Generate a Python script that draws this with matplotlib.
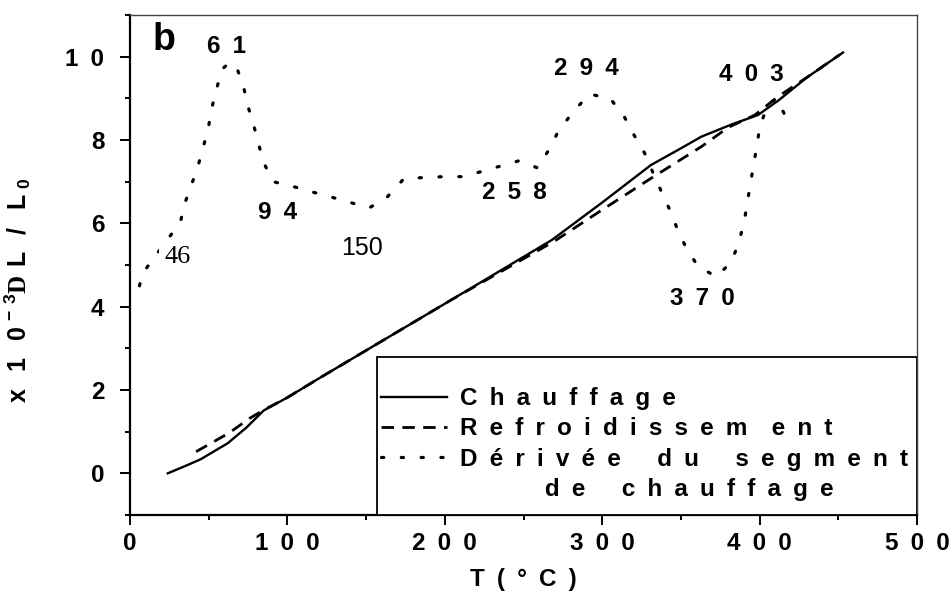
import numpy as np
import matplotlib
matplotlib.use('Agg')
import matplotlib.pyplot as plt
from matplotlib.ticker import MultipleLocator, FixedLocator
from matplotlib.lines import Line2D
from matplotlib.patches import Rectangle

plt.rcParams['font.family'] = ['Liberation Sans', 'DejaVu Sans']
plt.rcParams['font.weight'] = 'bold'
plt.rcParams['mathtext.fontset'] = 'custom'
plt.rcParams['mathtext.rm'] = 'Liberation Serif'
plt.rcParams['mathtext.bf'] = 'Liberation Sans:bold'

SP = '\u2002'  # wide letter spacing like the original


def spaced(s):
    return SP.join(s)


# %% DATA
heat_T = [24, 36, 45, 62, 74, 85, 100, 121, 150, 204, 268, 300, 331, 350, 363, 382, 399, 412, 430, 453]
heat_dL = [0, 0.19, 0.34, 0.72, 1.1, 1.51, 1.82, 2.3, 2.95, 4.16, 5.6, 6.5, 7.4, 7.8, 8.08, 8.37, 8.6, 8.95, 9.5, 10.1]

cool_T = [42, 63, 76, 85, 100, 121, 150, 204, 250, 270, 299, 331, 363, 380, 397, 412, 430, 451]
cool_dL = [0.52, 0.97, 1.32, 1.52, 1.82, 2.3, 2.95, 4.16, 5.15, 5.58, 6.3, 7.08, 7.84, 8.3, 8.6, 9.05, 9.5, 10.05]

deriv_T = [6, 8, 32, 35, 39.5, 43.4, 46.7, 49.8, 52, 54.8, 58.5, 63, 67.5, 72, 75, 78.5, 81.7, 85, 91,
           104, 116, 127, 140, 152, 163.6, 174, 187, 199, 211, 223, 234, 247, 259, 266, 272, 282, 292,
           305, 314, 320.5, 327, 332, 337.6, 343, 348, 353.5, 361, 372.6, 382, 386.6, 390, 392, 394,
           396, 398, 400, 405, 411, 418.5]
deriv_v = [4.5, 4.8, 6.03, 6.5, 6.97, 7.4, 7.85, 8.3, 8.77, 9.2, 9.7, 9.85, 9.77, 9.3, 8.8, 8.37, 7.9, 7.45, 7.0,
           6.88, 6.75, 6.64, 6.5, 6.37, 6.64, 7.07, 7.1, 7.12, 7.12, 7.24, 7.36, 7.5, 7.33, 7.76, 8.2, 8.7, 9.1,
           9.0, 8.56, 8.1, 7.68, 7.24, 6.76, 6.32, 5.84, 5.4, 4.96, 4.72, 5.07, 5.52, 6.0, 6.44, 6.92,
           7.36, 7.8, 8.28, 8.85, 9.0, 8.4]

# peak labels (text, T, value)
bold_labels = ['61', '94', '258', '294', '370', '403']
bold_lab_T = [61, 94, 244, 290, 363.5, 394.5]
bold_lab_v = [10.25, 6.27, 6.75, 9.71, 4.2, 9.58]

x_ticks = [0, 100, 200, 300, 400, 500]
y_ticks = [0, 2, 4, 6, 8, 10]

legend_labels = [spaced('Chauffage'),
                 spaced('Refroidissem') + SP + SP + spaced('ent'),
                 spaced('Dérivée') + SP * 3 + spaced('du') + SP * 3 + spaced('segment')]
legend_extra = SP * 7 + spaced('de') + SP * 3 + spaced('chauffage')

# %% PLOT
fig = plt.figure(figsize=(9.5, 5.99), dpi=100)
ax = fig.add_axes([130 / 950, 1 - 515 / 599, 787 / 950, 500 / 599])

ax.plot(heat_T, heat_dL, color='black', lw=1.7, label=legend_labels[0])
ax.plot(cool_T, cool_dL, color='black', lw=2.0, dashes=(4.5, 3), label=legend_labels[1])
ax.plot(deriv_T, deriv_v, color='black', lw=2.3, dashes=(0.7, 5.5), dash_capstyle='round',
        label=legend_labels[2])

ax.set_xlim(0, 500)
ax.set_ylim(-1, 11)
ax.xaxis.set_major_locator(FixedLocator(x_ticks))
ax.xaxis.set_minor_locator(MultipleLocator(50))
ax.yaxis.set_major_locator(FixedLocator(y_ticks))
ax.yaxis.set_minor_locator(MultipleLocator(1))
ax.set_xticklabels([spaced(str(v)) for v in x_ticks], fontweight='bold')
ax.set_yticklabels([spaced(str(v)) for v in y_ticks], fontweight='bold')
ax.tick_params(which='major', length=7.5, width=1.4, labelsize=17.5, direction='out')
ax.tick_params(which='minor', length=3.8, width=1.4, direction='out')
ax.tick_params(axis='y', pad=11)
ax.tick_params(axis='x', pad=5)

for s in ['left', 'bottom']:
    ax.spines[s].set_linewidth(1.6)
for s in ['top', 'right']:
    ax.spines[s].set_linewidth(1.0)
    ax.spines[s].set_color('#444444')

ax.set_xlabel(spaced('T') + SP + '(' + SP + '°' + SP + 'C' + SP + ')', fontsize=17.5,
              fontweight='bold', labelpad=9)
ax.set_ylabel(r'$\mathbf{x\ \ 1\ \ 0}^{\ \mathbf{-\ 3}}\mathrm{D}\ \mathbf{L\ \ /\ \ L}_{\ \mathbf{0}}$',
              fontsize=18)
ax.yaxis.set_label_coords(-0.123, 0.45)

# annotations
ax.text(14, 10.15, 'b', fontsize=27, fontweight='bold', ha='left', va='baseline')
for lab, t, v in zip(bold_labels, bold_lab_T, bold_lab_v):
    ax.text(t, v, spaced(lab), fontsize=17.5, fontweight='bold', ha='center', va='center')
ax.text(30.5, 5.2, '46', fontsize=19, family='Liberation Serif', fontweight='normal',
        ha='center', va='center', bbox=dict(facecolor='white', edgecolor='none', pad=4))
ax.text(147.4, 5.41, '150', fontsize=18, fontweight='normal', ha='center', va='center')

# legend box
ax.add_patch(Rectangle((0.314, 0), 0.686, 0.316, transform=ax.transAxes, facecolor='white',
                       edgecolor='black', lw=1.3, zorder=4))
handles, labels = ax.get_legend_handles_labels()
handles.append(Line2D([], [], linestyle='none'))
labels.append(legend_extra)
leg = ax.legend(handles, labels, loc='center left', bbox_to_anchor=(0.319, 0.142),
                frameon=False, prop={'size': 17.5, 'weight': 'bold'}, handlelength=2.7,
                handletextpad=0.55, borderpad=0, borderaxespad=0, labelspacing=0.3)
leg.set_zorder(5)

fig.savefig('out.png', dpi=100)
